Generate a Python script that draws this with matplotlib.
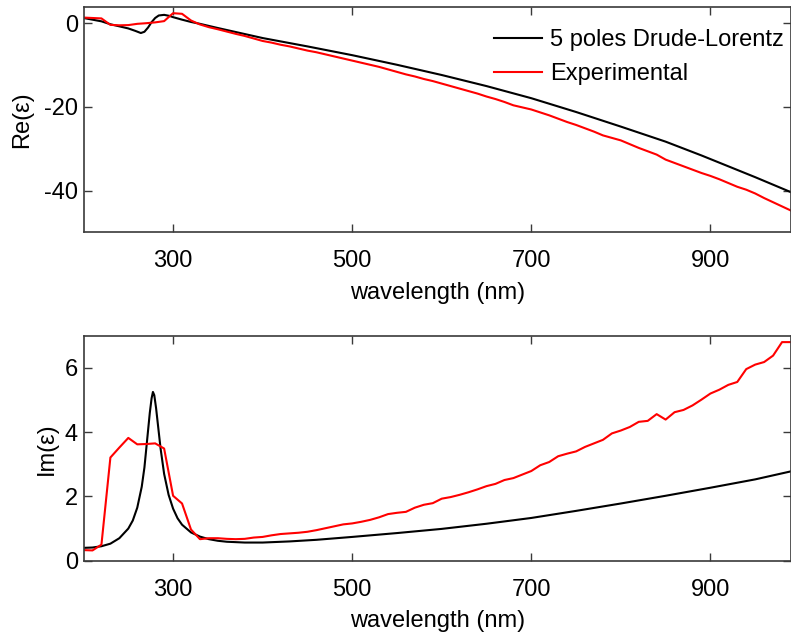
import numpy as np
import matplotlib
matplotlib.use("Agg")
import matplotlib.pyplot as plt

plt.rcParams['font.family'] = ['Liberation Sans', 'DejaVu Sans']

# Re(eps) - 5 poles Drude-Lorentz model
wl_model_re = [200, 210, 220, 230, 240, 250, 258, 264, 268, 272, 276, 280, 284, 290, 296,
               300, 310, 320, 330, 340, 350, 375, 400, 450, 500, 550, 600, 650, 700, 750,
               800, 850, 890, 920, 950, 970, 990]
re_model = [1.3, 0.9, 0.5, -0.2, -0.7, -1.2, -1.8, -2.3, -2.0, -1.0, 0.3, 1.3, 1.9, 2.05, 1.8,
            1.5, 0.9, 0.35, -0.1, -0.6, -1.1, -2.3, -3.5, -5.5, -7.6, -9.9, -12.35, -15.0, -17.9, -21.2,
            -24.7, -28.3, -31.6, -34.2, -36.8, -38.6, -40.4]

# Experimental data, 10 nm steps
wl_exp = list(range(200, 1000, 10))
re_exp = [1.4, 1.3, 1.2, -0.35, -0.45, -0.4, -0.1, 0.05, 0.25, 0.55,
          2.45, 2.3, 0.7, -0.25, -0.9, -1.4, -1.95, -2.5, -3.0, -3.6,
          -4.2, -4.6, -5.1, -5.5, -6.0, -6.5, -6.9, -7.4, -7.9, -8.4,
          -8.9, -9.4, -9.9, -10.4, -11.0, -11.6, -12.2, -12.7, -13.3, -13.8,
          -14.4, -15.0, -15.6, -16.2, -16.8, -17.5, -18.1, -18.8, -19.6, -20.1,
          -20.6, -21.3, -22.0, -22.8, -23.6, -24.3, -25.1, -25.9, -26.8, -27.4,
          -28.0, -28.9, -29.8, -30.6, -31.4, -32.6, -33.4, -34.2, -35.0, -35.8,
          -36.5, -37.3, -38.2, -39.1, -39.8, -40.7, -41.8, -42.8, -43.8, -44.8]
im_exp = [0.33, 0.32, 0.50, 3.21, 3.52, 3.82, 3.62, 3.63, 3.65, 3.49,
          2.02, 1.78, 0.97, 0.67, 0.70, 0.70, 0.68, 0.67, 0.68, 0.72,
          0.74, 0.79, 0.83, 0.85, 0.87, 0.90, 0.95, 1.01, 1.07, 1.13,
          1.16, 1.21, 1.27, 1.35, 1.45, 1.49, 1.52, 1.65, 1.74, 1.79,
          1.93, 1.98, 2.05, 2.13, 2.22, 2.32, 2.39, 2.51, 2.57, 2.68,
          2.79, 2.97, 3.07, 3.25, 3.33, 3.40, 3.54, 3.65, 3.76, 3.96,
          4.05, 4.16, 4.32, 4.35, 4.56, 4.39, 4.62, 4.69, 4.83, 5.01,
          5.20, 5.32, 5.47, 5.56, 5.96, 6.10, 6.18, 6.38, 6.80, 6.80]

# Im(eps) - model
wl_model_im = [200, 210, 220, 230, 240, 250, 255, 260, 265, 268, 271, 274, 276, 277.5, 279,
               281, 283, 286, 290, 295, 300, 305, 310, 320, 330, 340, 350, 360, 380, 400,
               430, 460, 500, 550, 600, 650, 700, 750, 800, 850, 900, 950, 990]
im_model = [0.40, 0.41, 0.45, 0.53, 0.70, 1.0, 1.25, 1.65, 2.3, 2.9, 3.75, 4.6, 5.05, 5.25, 5.15,
            4.75, 4.25, 3.5, 2.7, 2.05, 1.62, 1.32, 1.12, 0.88, 0.75, 0.67, 0.62, 0.59, 0.565, 0.565,
            0.6, 0.65, 0.74, 0.86, 0.99, 1.15, 1.33, 1.55, 1.78, 2.02, 2.27, 2.53, 2.78]

xticks = [300, 500, 700, 900]
fs = 17
spine_c = '#3a3a3a'

fig = plt.figure(figsize=(7.91, 6.33), dpi=100)
ax1 = fig.add_axes([0.1056, 0.633, 0.8944, 0.3564])
ax2 = fig.add_axes([0.1056, 0.1142, 0.8944, 0.3555])

ax1.plot(wl_model_re, re_model, color='black', lw=1.5, label='5 poles Drude-Lorentz')
ax1.plot(wl_exp, re_exp, color='red', lw=1.5, label='Experimental')
ax1.set_xlim(200, 990)
ax1.set_ylim(-50, 4)
ax1.set_yticks([0, -20, -40])
ax1.set_yticklabels(['0', '-20', '-40'])
ax1.set_ylabel('Re(ε)', fontsize=fs, labelpad=8)
ax1.legend(loc='upper right', frameon=False, fontsize=fs, handlelength=2.0,
           handletextpad=0.35, labelspacing=0.5, borderaxespad=0.0,
           bbox_to_anchor=(1.003, 0.943))

ax2.plot(wl_model_im, im_model, color='black', lw=1.5)
ax2.plot(wl_exp, im_exp, color='red', lw=1.5)
ax2.set_xlim(200, 990)
ax2.set_ylim(0, 7)
ax2.set_yticks([0, 2, 4, 6])
ax2.set_ylabel('Im(ε)', fontsize=fs, labelpad=5)

for ax in (ax1, ax2):
    ax.set_xticks(xticks)
    ax.set_xlabel('wavelength (nm)', fontsize=fs, labelpad=7)
    ax.tick_params(direction='in', length=6, width=1, color=spine_c, labelsize=fs,
                   top=True, right=True)
    ax.tick_params(axis='x', pad=13)
    ax.tick_params(axis='y', pad=4)
    for s in ax.spines.values():
        s.set_color(spine_c)
        s.set_linewidth(1.2)

fig.savefig('out.png', dpi=100)
